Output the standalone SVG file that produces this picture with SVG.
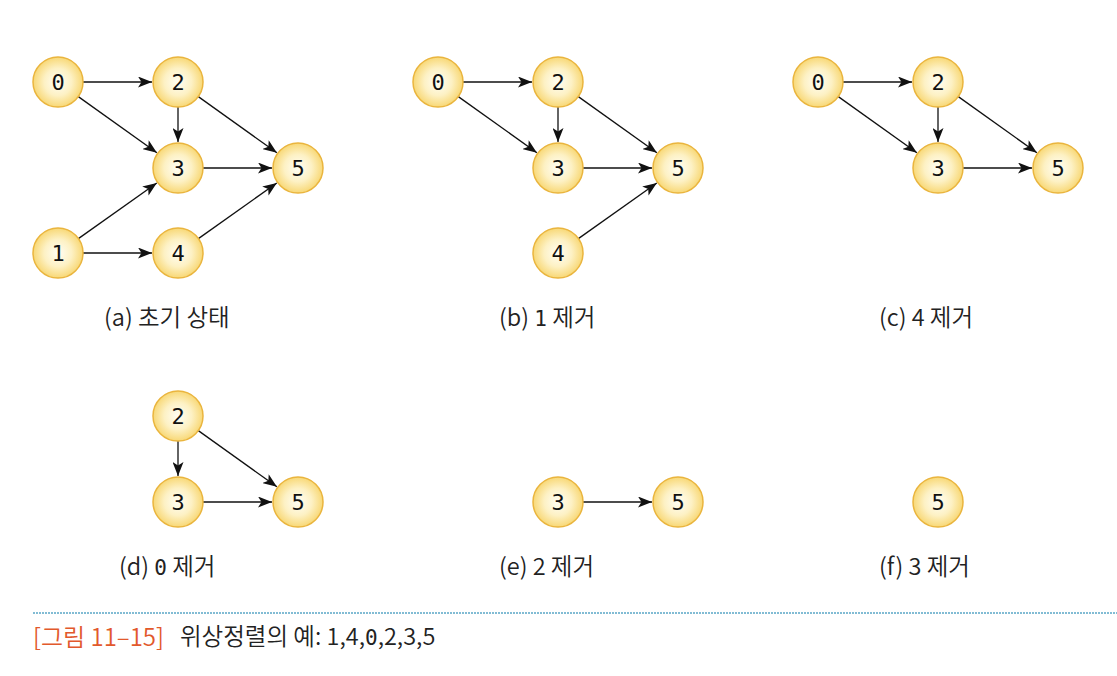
<svg xmlns="http://www.w3.org/2000/svg" width="1117" height="676" viewBox="0 0 1117 676">
<style>
.nd circle{fill:url(#g);stroke:#eab53e;stroke-width:1.5}
.nd text{font-family:"DejaVu Sans Mono",monospace;font-size:22px;fill:#111;text-anchor:middle}
.ed line{stroke:#111;stroke-width:1.3;marker-end:url(#ah)}
.cap{font-family:"Noto Sans CJK KR","Noto Sans",sans-serif;font-size:23.5px;font-weight:350;fill:#222}
.mono{font-family:"DejaVu Sans Mono",monospace;font-weight:400;font-size:21px}
</style>
<defs>
<radialGradient id="g" cx="0.5" cy="0.5" r="0.5">
<stop offset="0" stop-color="#fffef5"/>
<stop offset="0.55" stop-color="#fdf1c4"/>
<stop offset="1" stop-color="#f8d876"/>
</radialGradient>
<marker id="ah" viewBox="0 0 14 11" refX="14" refY="5.5" markerWidth="14" markerHeight="11" markerUnits="userSpaceOnUse" orient="auto">
<path d="M0,0 L14,5.5 L0,11 L3.5,5.5 Z" fill="#111"/>
</marker>
</defs>
<rect width="1117" height="676" fill="#fff"/>

<g id="panel-a">
<g class="ed" id="edges-a">
<line x1="83" y1="82" x2="152" y2="82"/>
<line x1="78.3" y1="96.6" x2="156.9" y2="152.8"/>
<line x1="178" y1="107" x2="178" y2="142"/>
<line x1="198.3" y1="96.6" x2="276.9" y2="152.8"/>
<line x1="203" y1="168" x2="272" y2="168"/>
<line x1="78.4" y1="238.6" x2="156.8" y2="183"/>
<line x1="83" y1="253" x2="152" y2="253"/>
<line x1="198.4" y1="238.6" x2="276.8" y2="183"/>
</g>
<g class="nd" id="a0"><circle cx="58" cy="82" r="25"/><text x="58" y="90">0</text></g>
<g class="nd" id="a2"><circle cx="178" cy="82" r="25"/><text x="178" y="90">2</text></g>
<g class="nd" id="a3"><circle cx="178" cy="168" r="25"/><text x="178" y="176">3</text></g>
<g class="nd" id="a5"><circle cx="298" cy="168" r="25"/><text x="298" y="176">5</text></g>
<g class="nd" id="a1"><circle cx="58" cy="253" r="25"/><text x="58" y="261">1</text></g>
<g class="nd" id="a4"><circle cx="178" cy="253" r="25"/><text x="178" y="261">4</text></g>
<text class="cap" x="104" y="326">(a) 초기 상태</text>
</g>

<g id="panel-b" transform="translate(380,0)">
<g class="ed" id="edges-b">
<line x1="83" y1="82" x2="152" y2="82"/>
<line x1="78.3" y1="96.6" x2="156.9" y2="152.8"/>
<line x1="178" y1="107" x2="178" y2="142"/>
<line x1="198.3" y1="96.6" x2="276.9" y2="152.8"/>
<line x1="203" y1="168" x2="272" y2="168"/>
<line x1="198.4" y1="238.6" x2="276.8" y2="183"/>
</g>
<g class="nd" id="b0"><circle cx="58" cy="82" r="25"/><text x="58" y="90">0</text></g>
<g class="nd" id="b2"><circle cx="178" cy="82" r="25"/><text x="178" y="90">2</text></g>
<g class="nd" id="b3"><circle cx="178" cy="168" r="25"/><text x="178" y="176">3</text></g>
<g class="nd" id="b5"><circle cx="298" cy="168" r="25"/><text x="298" y="176">5</text></g>
<g class="nd" id="b4"><circle cx="178" cy="253" r="25"/><text x="178" y="261">4</text></g>
<text class="cap" x="119" y="326">(b) <tspan class="mono">1</tspan> 제거</text>
</g>

<g id="panel-c" transform="translate(760,0)">
<g class="ed" id="edges-c">
<line x1="83" y1="82" x2="152" y2="82"/>
<line x1="78.3" y1="96.6" x2="156.9" y2="152.8"/>
<line x1="178" y1="107" x2="178" y2="142"/>
<line x1="198.3" y1="96.6" x2="276.9" y2="152.8"/>
<line x1="203" y1="168" x2="272" y2="168"/>
</g>
<g class="nd" id="c0"><circle cx="58" cy="82" r="25"/><text x="58" y="90">0</text></g>
<g class="nd" id="c2"><circle cx="178" cy="82" r="25"/><text x="178" y="90">2</text></g>
<g class="nd" id="c3"><circle cx="178" cy="168" r="25"/><text x="178" y="176">3</text></g>
<g class="nd" id="c5"><circle cx="298" cy="168" r="25"/><text x="298" y="176">5</text></g>
<text class="cap" x="119" y="326">(c) 4 제거</text>
</g>

<g id="panel-d" transform="translate(0,334)">
<g class="ed" id="edges-d">
<line x1="178" y1="107" x2="178" y2="142"/>
<line x1="198.3" y1="96.6" x2="276.9" y2="152.8"/>
<line x1="203" y1="168" x2="272" y2="168"/>
</g>
<g class="nd" id="d2"><circle cx="178" cy="82" r="25"/><text x="178" y="90">2</text></g>
<g class="nd" id="d3"><circle cx="178" cy="168" r="25"/><text x="178" y="176">3</text></g>
<g class="nd" id="d5"><circle cx="298" cy="168" r="25"/><text x="298" y="176">5</text></g>
<text class="cap" x="119" y="241">(d) <tspan class="mono">0</tspan> 제거</text>
</g>

<g id="panel-e" transform="translate(380,334)">
<g class="ed" id="edges-e">
<line x1="203" y1="168" x2="272" y2="168"/>
</g>
<g class="nd" id="e3"><circle cx="178" cy="168" r="25"/><text x="178" y="176">3</text></g>
<g class="nd" id="e5"><circle cx="298" cy="168" r="25"/><text x="298" y="176">5</text></g>
<text class="cap" x="119" y="241">(e) 2 제거</text>
</g>

<g id="panel-f" transform="translate(760,334)">
<g class="nd" id="f5"><circle cx="178" cy="168" r="25"/><text x="178" y="176">5</text></g>
<text class="cap" x="119" y="241">(f) 3 제거</text>
</g>

<line x1="33" y1="613" x2="1117" y2="613" stroke="#5aa6c6" stroke-width="1.3" stroke-dasharray="2 1"/>
<text x="33" y="646" font-family="Noto Sans CJK KR,Noto Sans,sans-serif" font-size="24" font-weight="350" fill="#e2592c">[그림 11–15]</text>
<text x="180" y="645" font-family="Noto Sans CJK KR,Noto Sans,sans-serif" font-size="23.5" font-weight="350" fill="#222">위상정렬의 예: 1,4,<tspan class="mono">0</tspan>,2,3,5</text>
</svg>
